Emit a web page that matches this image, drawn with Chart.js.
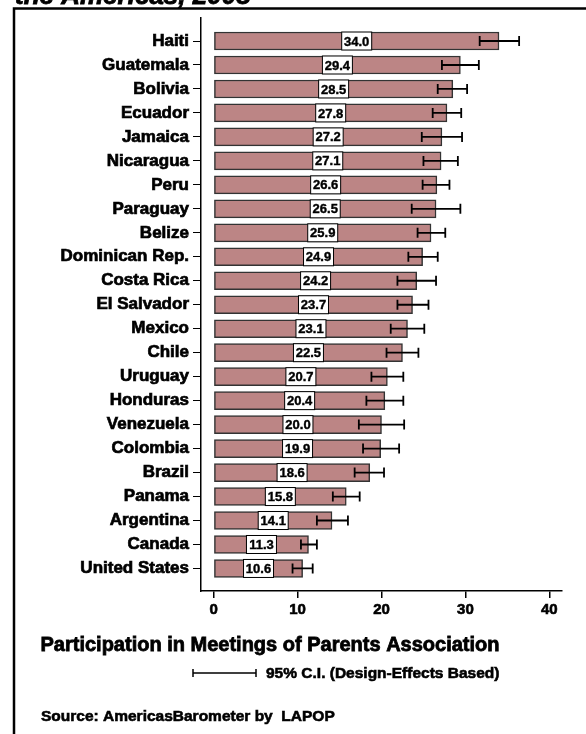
<!DOCTYPE html>
<html>
<head>
<meta charset="utf-8">
<title>Participation in Meetings of Parents Association</title>
<script src="https://cdn.jsdelivr.net/npm/chart.js@4.4.0/dist/chart.umd.min.js"></script>
<style>
  html, body { margin: 0; padding: 0; background: #fff; }
</style>
</head>
<body>
<canvas id="myChart" width="586" height="734"></canvas>
<script>
const countries = ['Haiti', 'Guatemala', 'Bolivia', 'Ecuador', 'Jamaica', 'Nicaragua', 'Peru', 'Paraguay',
    'Belize', 'Dominican Rep.', 'Costa Rica', 'El Salvador', 'Mexico', 'Chile', 'Uruguay', 'Honduras',
    'Venezuela', 'Colombia', 'Brazil', 'Panama', 'Argentina', 'Canada', 'United States'];
const meanValues = [34.0, 29.4, 28.5, 27.8, 27.2, 27.1, 26.6, 26.5, 25.9, 24.9, 24.2, 23.7, 23.1, 22.5,
    20.7, 20.4, 20.0, 19.9, 18.6, 15.8, 14.1, 11.3, 10.6];
// 95% confidence interval ends
const ciLow = [31.7, 27.2, 26.7, 26.1, 24.8, 25.0, 24.9, 23.6, 24.3, 23.2, 21.9, 21.9, 21.1, 20.6,
    18.8, 18.2, 17.3, 17.8, 16.8, 14.2, 12.3, 10.4, 9.4];
const ciHigh = [36.4, 31.6, 30.2, 29.5, 29.6, 29.1, 28.1, 29.4, 27.6, 26.7, 26.5, 25.6, 25.1, 24.4,
    22.6, 22.6, 22.7, 22.1, 20.3, 17.4, 16.0, 12.3, 11.8];
const xTickValues = [0, 10, 20, 30, 40];

const FONT = '"Liberation Sans", Arial, Helvetica, sans-serif';

// bold text with a thin outline so it reads heavier
function heavyText(ctx, text, x, y, stroke) {
    ctx.lineWidth = stroke;
    ctx.strokeText(text, x, y);
    ctx.fillText(text, x, y);
}

// value boxes and CI whiskers on top of the bars
const errorBars = {
    id: 'errorBars',
    afterDatasetsDraw(chart) {
        const ctx = chart.ctx;
        const xs = chart.scales.x;
        const bars = chart.getDatasetMeta(0).data;
        ctx.save();
        bars.forEach((bar, i) => {
            const mid = (bar.x + bar.base) / 2;
            const h = bar.height;
            ctx.fillStyle = '#fff';
            ctx.strokeStyle = '#000';
            ctx.lineWidth = 1;
            ctx.fillRect(mid - 15, bar.y - h / 2, 30, h);
            ctx.strokeRect(mid - 15, bar.y - h / 2, 30, h);
            ctx.fillStyle = '#000';
            ctx.font = 'bold 13px ' + FONT;
            ctx.textAlign = 'center';
            ctx.textBaseline = 'middle';
            heavyText(ctx, meanValues[i].toFixed(1), mid, bar.y + 1, 0.4);

            const lo = xs.getPixelForValue(ciLow[i]);
            const hi = xs.getPixelForValue(ciHigh[i]);
            ctx.lineWidth = 1.8;
            ctx.beginPath();
            ctx.moveTo(lo, bar.y); ctx.lineTo(hi, bar.y);
            ctx.moveTo(lo, bar.y - 5); ctx.lineTo(lo, bar.y + 5);
            ctx.moveTo(hi, bar.y - 5); ctx.lineTo(hi, bar.y + 5);
            ctx.stroke();
        });
        ctx.restore();
    }
};

// frame, heading line, axis title, CI key and source
const extras = {
    id: 'extras',
    afterDraw(chart) {
        const ctx = chart.ctx;
        ctx.save();
        ctx.strokeStyle = '#000';
        ctx.lineWidth = 2.5;
        ctx.strokeRect(14, 8.5, 1000, 1000);

        ctx.fillStyle = '#000';
        ctx.textBaseline = 'alphabetic';
        ctx.textAlign = 'left';
        ctx.font = 'italic bold 26px ' + FONT;
        heavyText(ctx, 'the Americas, 2008', 15, 4, 0.8);

        ctx.textAlign = 'center';
        ctx.font = 'bold 20px ' + FONT;
        heavyText(ctx, 'Participation in Meetings of Parents Association', 270, 651, 0.8);

        ctx.lineWidth = 1.5;
        ctx.beginPath();
        ctx.moveTo(193, 673); ctx.lineTo(256, 673);
        ctx.moveTo(193, 669); ctx.lineTo(193, 677);
        ctx.moveTo(256, 669); ctx.lineTo(256, 677);
        ctx.stroke();
        ctx.textAlign = 'left';
        ctx.font = 'bold 15.5px ' + FONT;
        heavyText(ctx, '95% C.I. (Design-Effects Based)', 266, 678, 0.6);

        heavyText(ctx, 'Source: AmericasBarometer by  LAPOP', 41, 721, 0.6);
        ctx.restore();
    }
};

new Chart('myChart', {
    type: 'bar',
    data: {
        datasets: [{
            data: meanValues.map((v, i) => ({ x: v, y: i })),
            backgroundColor: '#bc8585',
            borderColor: '#333',
            borderWidth: 1.5,
            borderSkipped: false,
            barThickness: 18
        }]
    },
    options: {
        indexAxis: 'y',
        responsive: false,
        animation: false,
        layout: { padding: { top: 18, right: 24, bottom: 113, left: 0 } },
        plugins: { legend: { display: false }, tooltip: { enabled: false } },
        scales: {
            y: {
                type: 'linear',
                reverse: true,
                offset: false,
                min: -0.96,
                max: 22.94,
                afterBuildTicks: s => { s.ticks = countries.map((c, i) => ({ value: i })); },
                afterFit: s => { s.width = 201; },
                grid: { offset: false, drawOnChartArea: false, tickLength: 8, color: '#000', lineWidth: 1 },
                border: { color: '#000', width: 1.5 },
                ticks: {
                    autoSkip: false,
                    padding: 4,
                    color: '#000',
                    textStrokeColor: '#000',
                    textStrokeWidth: 0.7,
                    font: { family: FONT, size: 17, weight: 'bold' },
                    callback: v => countries[v]
                }
            },
            x: {
                type: 'linear',
                min: -1.51,
                max: 41.51,
                afterBuildTicks: s => { s.ticks = xTickValues.map(v => ({ value: v })); },
                afterFit: s => { s.height = 30; },
                grid: { drawOnChartArea: false, tickLength: 7, color: '#000', lineWidth: 1.5 },
                border: { color: '#000', width: 1.5 },
                ticks: {
                    padding: 3,
                    color: '#000',
                    textStrokeColor: '#000',
                    textStrokeWidth: 0.6,
                    font: { family: FONT, size: 15, weight: 'bold' }
                }
            }
        }
    },
    plugins: [errorBars, extras]
});
</script>
</body>
</html>
